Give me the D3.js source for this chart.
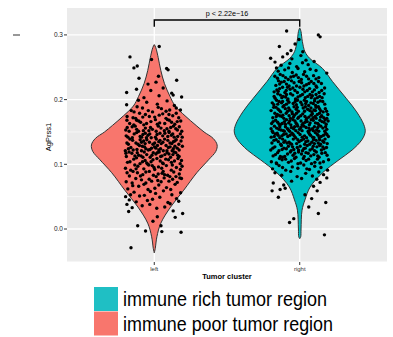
<!DOCTYPE html>
<html><head><meta charset="utf-8">
<script src="https://cdn.jsdelivr.net/npm/d3@7"></script>
<style>
html,body{margin:0;padding:0;background:#fff;}
svg{display:block;font-family:"Liberation Sans",Arial,sans-serif;}
</style></head>
<body><svg id="c" width="393" height="337"></svg>
<script>
// ---------- data ----------
const categories = ["left", "right"];
const yTicks = [0.0, 0.1, 0.2, 0.3];
const yMinor = [-0.05, 0.05, 0.15, 0.25];
const yTickLabels = ["0.0", "0.1", "0.2", "0.3"];
const xTitle = "Tumor cluster";
const yTitle = "AgPrss1";
const pText = "p < 2.22e\u221216";
const bracketLevels = [0.323, 0.3125];
const legendLabels = ["immune rich tumor region", "immune poor tumor region"];
const legendColors = ["#1FBFC4", "#F8766D"];
const groupColors = ["#F8766D", "#00BFC4"];

// violin profiles: [value, relative density]
const leftProfile = [
  [-0.037,0],[-0.030,0.015],[-0.012,0.04],[0.009,0.10],[0.034,0.25],[0.060,0.45],
  [0.087,0.65],[0.107,0.83],[0.120,0.94],[0.130,0.96],[0.140,0.90],[0.150,0.76],
  [0.160,0.64],[0.175,0.47],[0.190,0.32],[0.205,0.24],[0.225,0.155],[0.245,0.10],
  [0.265,0.06],[0.278,0.03],[0.283,0.012],[0.285,0]
];
const rightProfile = [
  [-0.015,0],[-0.012,0.015],[0.000,0.02],[0.029,0.035],[0.045,0.08],[0.065,0.16],
  [0.087,0.35],[0.107,0.60],[0.122,0.80],[0.138,0.95],[0.150,1.0],[0.161,0.98],
  [0.181,0.87],[0.202,0.71],[0.228,0.50],[0.248,0.35],[0.264,0.15],[0.274,0.08],
  [0.290,0.04],[0.305,0.02],[0.309,0.008],[0.311,0]
];

// jittered observations: [jitter offset (category units), value]
const leftPoints = [
[-.16,-.029],[-.114,.005],[-.06,-.003],[.046,.005],[.052,-.004],[.184,-.005],[.13,.028],[.195,.024],[.144,.018],
[-.197,.05],[-.172,.045],[-.188,.038],[-.152,.033],[-.176,.027],[-.163,.053],[-.009,.012],[.021,.019],
[-.083,.036],[.017,.032],[.109,.039],[-.031,.038],[.072,.034],
[-.124,.042],[.153,.047],[-.047,.044],[.038,.049],[.094,.041],[-.012,.046],[.168,.043],
[-.139,.057],[-.068,.052],[.009,.055],[.063,.059],[.121,.053],[-.027,.058],[.181,.056],[-.101,.051],
[-.182,.062],[-.107,.066],[-.043,.061],[.031,.068],[.084,.064],[.143,.069],[-.148,.067],[.004,.063],[.113,.061],[-.071,.069],
[-.193,.073],[-.127,.078],[-.058,.071],[.024,.075],[.068,.079],[.158,.072],[-.088,.076],[.047,.073],[.126,.077],[-.018,.074],[.187,.078],
[-.171,.082],[-.116,.087],[-.079,.084],[-.034,.089],[.013,.081],[.054,.086],[.092,.083],[.134,.088],[.172,.085],[-.146,.089],[-.006,.083],[.107,.081],[.061,.089],
[-.198,.094],[-.162,.091],[-.113,.097],[-.072,.093],[-.038,.099],[.003,.092],[.029,.096],[.083,.098],[.117,.091],[.152,.095],[.191,.097],[-.134,.099],[.051,.094],[-.014,.098],
[-.184,.103],[-.141,.108],[-.098,.101],[-.063,.106],[-.022,.104],[.018,.109],[.057,.102],[.098,.107],[.139,.105],[.178,.101],[-.122,.11],[-.044,.1],[.041,.105],[.079,.108],[.163,.109],[-.081,.104],
[-.192,.112],[-.154,.117],[-.108,.114],[-.069,.119],[-.028,.111],[.011,.116],[.053,.113],[.088,.118],[.128,.115],[.171,.112],[-.173,.119],[-.052,.115],[.034,.119],[.112,.111],[.148,.118],[-.091,.113],[.073,.115],[-.007,.118],
[-.199,.121],[-.161,.126],[-.119,.123],[-.082,.128],[-.041,.122],[.002,.127],[.043,.124],[.081,.129],[.123,.121],[.158,.125],[.193,.128],[-.178,.124],[-.102,.129],[-.019,.125],[.062,.121],[.097,.126],[.142,.128],[-.058,.124],[.022,.129],
[-.188,.133],[-.149,.137],[-.112,.131],[-.073,.136],[-.033,.134],[.014,.139],[.048,.132],[.093,.137],[.131,.135],[.169,.131],[-.168,.139],[-.088,.134],[-.009,.131],[.071,.139],[.108,.133],[.151,.138],[-.051,.138],[.031,.135],
[-.181,.142],[-.138,.147],[-.097,.143],[-.062,.148],[-.021,.141],[.019,.146],[.058,.144],[.102,.149],[.137,.142],[.179,.147],[-.121,.149],[-.043,.145],[.039,.148],[.118,.145],[.161,.143],[-.078,.146],
[-.196,.153],[-.152,.158],[-.108,.151],[-.061,.156],[-.013,.154],[.028,.159],[.069,.152],[.113,.157],[.148,.155],[.189,.151],[-.131,.159],[-.037,.152],[.087,.155],[.172,.158],
[-.169,.163],[-.121,.168],[-.072,.161],[-.023,.166],[.037,.164],[.091,.169],[.141,.162],[.182,.167],[-.094,.165],[.008,.169],[.119,.165],
[-.187,.174],[-.128,.171],[-.061,.177],[.003,.173],[.058,.178],[.127,.175],[.168,.172],[-.101,.179],[.081,.171],
[-.158,.183],[-.081,.187],[-.012,.181],[.049,.186],[.106,.184],[.18,.184],[-.118,.189],
[-.19,.192],[-.052,.196],[.021,.193],[.088,.198],[.138,.191],[-.109,.199],
[.12,.21],[.13,.207],[.188,.204],[-.071,.203],[.033,.206],
[-.19,.211],[-.024,.214],[.061,.218],[-.122,.216],
[.154,.23],[-.043,.224],[.012,.227],
[-.105,.233],[.029,.236],
[-.14,.249],[-.117,.252],[.085,.248],[.095,.246],
[-.167,.266],[-.019,.262],
[.034,.282],
[-.152,.071],[-.035,.077],[.101,.074],[.176,.079],[-.095,.082],[.027,.085],[.149,.081],[-.187,.087],[-.058,.088],[.071,.084],
[-.125,.093],[-.002,.095],[.124,.099],[.179,.092],[-.167,.104],[-.052,.102],[.062,.101],[.118,.103],[-.009,.107],[.187,.106],
[-.133,.113],[-.078,.111],[-.016,.114],[.044,.112],[.101,.116],[.161,.114],[-.195,.117],[.021,.118],[-.117,.118],[.136,.119],
[-.145,.122],[-.088,.121],[-.029,.123],[.031,.122],[.087,.121],[.131,.124],[.171,.122],[-.067,.127],[.011,.125],[.109,.127],
[-.178,.131],[-.126,.133],[-.063,.132],[.003,.133],[.059,.134],[.121,.132],[.184,.136],[-.097,.138],[.039,.137],[.141,.136],
[-.193,.144],[-.151,.141],[-.087,.142],[-.031,.147],[.008,.142],[.073,.148],[.127,.147],[.192,.142],[-.054,.141],[.093,.143],
[-.173,.151],[-.121,.154],[-.075,.152],[-.026,.157],[.046,.156],[.101,.151],[.159,.153],[-.186,.157],[.013,.151],[.131,.159],
[-.141,.161],[-.053,.163],[.021,.162],[.072,.163],[.158,.166],[-.188,.168],[-.107,.167],[.103,.168],
[-.146,.172],[-.034,.174],[.034,.176],[.101,.177],[.151,.179],[-.079,.173],
[-.139,.181],[-.041,.183],[.027,.188],[.081,.182],[.151,.187]
];
const rightPoints = [
[.17,-.009],[-.07,.01],[.128,.024],[-.041,.016],[.062,.034],[.179,.041],[.082,.047],[-.147,.049],[-.19,.059],[.12,.059],[.036,.053],
[-.135,.061],[-.11,.068],[-.1,.063],[.095,.066],[.117,.077],[.14,.072],[-.056,.074],[.013,.078],[-.182,.071],[.186,.079],
[-.17,.087],[-.124,.083],[-.062,.089],[-.018,.081],[.041,.086],[.087,.082],[.131,.088],[.164,.084],
[-.187,.093],[-.142,.098],[-.096,.091],[-.051,.096],[-.013,.094],[.028,.099],[.067,.092],[.103,.097],[.146,.095],[.191,.091],[-.118,.095],[.049,.093],
[-.195,.104],[-.158,.101],[-.121,.107],[-.077,.103],[-.036,.109],[.006,.102],[.044,.106],[.081,.101],[.122,.108],[.163,.104],[.198,.107],[-.058,.105],[.025,.109],[.104,.103],[-.139,.109],
[-.183,.113],[-.152,.118],[-.117,.111],[-.084,.116],[-.046,.114],[-.008,.119],[.031,.112],[.058,.117],[.097,.115],[.133,.111],[.176,.118],[-.167,.115],[-.065,.119],[.012,.116],[.076,.113],[.152,.117],[-.103,.112],[.114,.119],[-.026,.111],
[-.199,.122],[-.171,.127],[-.143,.121],[-.109,.125],[-.078,.128],[-.041,.123],[-.017,.126],[.019,.121],[.052,.129],[.086,.124],[.118,.127],[.149,.122],[.184,.126],[-.126,.129],[-.059,.121],[.003,.128],[.038,.125],[.071,.122],[.137,.129],[.167,.124],[-.092,.124],[.102,.121],
[-.191,.133],[-.162,.138],[-.131,.131],[-.101,.136],[-.073,.134],[-.044,.139],[-.021,.132],[.011,.137],[.042,.135],[.069,.131],[.095,.138],[.127,.133],[.158,.136],[.189,.132],[-.177,.137],[-.118,.139],[-.056,.131],[-.004,.135],[.027,.139],[.083,.134],[.113,.137],[.143,.131],[.174,.139],[-.087,.133],[.056,.136],
[-.196,.142],[-.168,.147],[-.137,.141],[-.111,.146],[-.082,.143],[-.053,.148],[-.028,.141],[.002,.146],[.033,.144],[.061,.149],[.089,.142],[.119,.147],[.148,.143],[.179,.148],[-.184,.149],[-.123,.144],[-.067,.145],[-.011,.149],[.047,.141],[.074,.145],[.107,.149],[.134,.141],[.164,.145],[.197,.143],[-.149,.145],[-.038,.144],
[-.188,.151],[-.159,.156],[-.129,.153],[-.098,.158],[-.069,.151],[-.042,.155],[-.014,.159],[.016,.152],[.044,.157],[.072,.153],[.101,.158],[.131,.151],[.159,.156],[.186,.154],[-.174,.159],[-.114,.152],[-.057,.157],[-.002,.154],[.029,.159],[.087,.155],[.116,.153],[.145,.159],[.172,.151],[-.143,.154],[-.084,.155],[.058,.151],[-.027,.152],
[-.193,.163],[-.166,.168],[-.134,.161],[-.105,.166],[-.076,.164],[-.047,.169],[-.019,.162],[.009,.167],[.037,.165],[.066,.161],[.093,.168],[.124,.163],[.153,.166],[.182,.162],[-.152,.165],[-.091,.169],[-.033,.167],[.023,.163],[.079,.169],[.108,.164],[.139,.168],[.167,.165],[-.121,.163],[-.061,.161],[.051,.166],[.195,.167],
[-.185,.172],[-.154,.177],[-.124,.174],[-.093,.179],[-.064,.171],[-.036,.176],[-.007,.173],[.021,.178],[.049,.171],[.078,.176],[.106,.174],[.136,.179],[.165,.172],[.193,.177],[-.171,.179],[-.109,.171],[-.051,.178],[.007,.175],[.063,.173],[.121,.177],[.151,.175],[-.138,.175],[-.022,.179],[.092,.172],
[-.197,.183],[-.163,.188],[-.131,.181],[-.099,.186],[-.068,.184],[-.039,.189],[-.009,.182],[.024,.187],[.054,.185],[.084,.181],[.113,.188],[.144,.183],[.176,.186],[-.148,.185],[-.083,.182],[-.024,.185],[.039,.189],[.098,.184],[.128,.189],[.161,.181],[-.115,.189],[.069,.183],
[-.178,.192],[-.142,.197],[-.107,.191],[-.074,.196],[-.045,.194],[-.015,.199],[.016,.192],[.047,.197],[.077,.195],[.109,.191],[.141,.198],[.172,.193],[-.159,.199],[-.091,.193],[-.031,.197],[.032,.199],[.093,.194],[.125,.196],[-.125,.195],[.061,.191],
[-.169,.202],[-.133,.207],[-.097,.204],[-.063,.209],[-.029,.201],[.004,.206],[.038,.203],[.071,.208],[.104,.201],[.137,.205],[.168,.209],[-.151,.209],[-.081,.201],[-.012,.204],[.055,.205],[.121,.203],[-.114,.205],[.087,.206],
[-.176,.212],[-.138,.217],[-.102,.211],[-.066,.216],[-.033,.214],[.001,.219],[.035,.212],[.068,.217],[.101,.215],[.133,.211],[.171,.218],[-.157,.215],[-.084,.219],[-.016,.211],[.052,.214],[.117,.219],
[-.164,.222],[-.127,.227],[-.091,.224],[-.057,.229],[-.022,.221],[.013,.226],[.046,.223],[.079,.228],[.112,.221],[.149,.225],[-.146,.229],[-.073,.221],[-.004,.228],[.063,.225],
[-.153,.233],[-.115,.237],[-.079,.231],[-.042,.236],[-.009,.234],[.026,.239],[.061,.232],[.095,.237],[.131,.234],[-.134,.239],[-.061,.235],[.011,.231],
[.186,.241],[-.16,.249],[-.148,.244],[-.103,.246],[-.051,.242],[-.012,.248],[.034,.243],[.072,.247],[.112,.245],[-.077,.249],
[-.17,.258],[-.128,.253],[-.068,.256],[-.021,.251],[.019,.257],[.058,.254],[.099,.259],
[-.2,.264],[-.117,.266],[-.054,.263],[.008,.268],[.043,.261],
[-.06,.276],[-.085,.271],[.021,.274],
[-.14,.282],[-.032,.286],
[.14,.297],[-.005,.293],
[-.09,.306],[.128,.3],
[-.161,.102],[-.097,.108],[-.012,.101],[.061,.108],[.139,.102],
[-.133,.112],[-.034,.117],[.043,.118],[.124,.113],[.188,.114],
[-.185,.125],[-.121,.123],[-.049,.127],[.028,.124],[.093,.128],[.159,.127],[-.008,.122],
[-.147,.135],[-.064,.132],[-.013,.138],[.034,.131],[.101,.132],[.166,.134],[-.109,.134],[.137,.138],
[-.175,.143],[-.093,.147],[-.045,.146],[.017,.142],[.067,.147],[.126,.145],[.187,.146],[-.155,.148],[.098,.141],
[-.197,.155],[-.137,.158],[-.077,.153],[-.035,.158],[.008,.157],[.063,.156],[.124,.157],[.178,.158],[-.106,.151],[.094,.152],
[-.183,.166],[-.141,.162],[-.069,.167],[-.026,.164],[.016,.161],[.071,.164],[.131,.161],[.175,.169],[-.099,.162],[.044,.169],
[-.161,.174],[-.116,.176],[-.073,.175],[-.013,.171],[.036,.174],[.087,.178],[.143,.173],[.186,.171],[-.043,.173],[.113,.171],
[-.179,.188],[-.139,.183],[-.076,.187],[-.017,.188],[.033,.182],[.077,.187],[.136,.186],[.185,.182],[-.053,.181],[.108,.183],
[-.189,.195],[-.151,.193],[-.083,.199],[-.023,.192],[.041,.194],[.102,.198],[.158,.197],[-.118,.197],[.007,.196],
[-.176,.205],[-.123,.203],[-.048,.207],[.019,.208],[.079,.203],[.154,.203],[-.091,.208],[.112,.208],
[-.148,.213],[-.093,.214],[-.047,.218],[.022,.216],[.087,.212],[.151,.214],[-.118,.219],
[-.138,.224],[-.039,.226],[.029,.221],[.097,.225],[-.107,.228],[.129,.228],
[-.097,.234],[-.024,.238],[.047,.236],[.112,.232],[-.171,.236]
];

// ---------- drawing ----------
const svg = d3.select("#c");
const P = {l: 67, r: 387, t: 8, b: 262};

const x = d3.scalePoint().domain(categories).range([P.l, P.r]).padding(0.6);
const step = x.step();
const y = d3.scaleLinear().domain([-0.051, 0.3416]).range([P.b, P.t]);

// panel
svg.append("rect").attr("x", P.l).attr("y", P.t).attr("width", P.r - P.l).attr("height", P.b - P.t).attr("fill", "#EBEBEB");
const grid = svg.append("g");
grid.selectAll(".mn").data(yMinor).join("line")
  .attr("x1", P.l).attr("x2", P.r).attr("y1", d => y(d)).attr("y2", d => y(d))
  .attr("stroke", "#fff").attr("stroke-width", 0.6);
grid.selectAll(".mj").data(yTicks).join("line")
  .attr("x1", P.l).attr("x2", P.r).attr("y1", d => y(d)).attr("y2", d => y(d))
  .attr("stroke", "#fff").attr("stroke-width", 1.3);
grid.selectAll(".vx").data(categories).join("line")
  .attr("x1", d => x(d)).attr("x2", d => x(d)).attr("y1", P.t).attr("y2", P.b)
  .attr("stroke", "#fff").attr("stroke-width", 1.3);

// violins
const maxHalf = 0.45 * step;
[leftProfile, rightProfile].forEach((prof, i) => {
  const cx = x(categories[i]);
  const area = d3.area()
    .y(d => y(d[0]))
    .x0(d => cx - d[1] * maxHalf)
    .x1(d => cx + d[1] * maxHalf)
    .curve(d3.curveCatmullRom);
  svg.append("path").datum(prof).attr("d", area)
    .attr("fill", groupColors[i]).attr("stroke", "#333333").attr("stroke-width", 1);
});

// points
[leftPoints, rightPoints].forEach((pts, i) => {
  const cx = x(categories[i]);
  svg.append("g").selectAll("circle").data(pts).join("circle")
    .attr("cx", d => cx + d[0] * step)
    .attr("cy", d => y(d[1]))
    .attr("r", 1.7)
    .attr("fill", "#000");
});

// significance bracket
const bx0 = x(categories[0]), bx1 = x(categories[1]);
svg.append("path")
  .attr("d", d3.line()([[bx0, y(bracketLevels[1])], [bx0, y(bracketLevels[0])], [bx1, y(bracketLevels[0])], [bx1, y(bracketLevels[1])]]))
  .attr("fill", "none").attr("stroke", "#000").attr("stroke-width", 1.4);
svg.append("text").attr("x", (bx0 + bx1) / 2).attr("y", y(bracketLevels[0]) - 4)
  .attr("text-anchor", "middle").attr("font-size", 7.2).attr("fill", "#000").text(pText);

// y axis
const yAx = svg.append("g");
yAx.selectAll("line").data(yTicks).join("line")
  .attr("x1", P.l - 3).attr("x2", P.l).attr("y1", d => y(d)).attr("y2", d => y(d))
  .attr("stroke", "#333").attr("stroke-width", 1);
yAx.selectAll("text").data(yTicks).join("text")
  .attr("x", P.l - 4).attr("y", d => y(d)).attr("dy", "0.35em")
  .attr("text-anchor", "end").attr("font-size", 6.5).attr("fill", "#222")
  .text((d, i) => yTickLabels[i]);
svg.append("text").attr("transform", `translate(51,${(P.t + P.b) / 2 + 2}) rotate(-90)`)
  .attr("text-anchor", "middle").attr("font-size", 7.5).attr("fill", "#000").text(yTitle);

// x axis
const xAx = svg.append("g");
xAx.selectAll("line").data(categories).join("line")
  .attr("x1", d => x(d)).attr("x2", d => x(d)).attr("y1", P.b).attr("y2", P.b + 3)
  .attr("stroke", "#333").attr("stroke-width", 1);
xAx.selectAll("text").data(categories).join("text")
  .attr("x", d => x(d)).attr("y", P.b + 8.5)
  .attr("text-anchor", "middle").attr("font-size", 6).attr("fill", "#333").text(d => d);
svg.append("text").attr("x", (P.l + P.r) / 2).attr("y", P.b + 16.5)
  .attr("text-anchor", "middle").attr("font-size", 7.5).attr("font-weight", "bold").attr("fill", "#000").text(xTitle);

// stray dash top-left
svg.append("rect").attr("x", 13).attr("y", 34.5).attr("width", 7).attr("height", 1).attr("fill", "#333");

// legend
const lg = svg.append("g");
const legendWidths = [204, 210];
legendLabels.forEach((lab, i) => {
  const yy = 287 + i * 24.5;
  lg.append("rect").attr("x", 94).attr("y", yy).attr("width", 24).attr("height", 24).attr("fill", legendColors[i]);
  lg.append("text").attr("x", 123).attr("y", yy + 19).attr("font-size", 19.5).attr("fill", "#000")
    .attr("textLength", legendWidths[i]).attr("lengthAdjust", "spacingAndGlyphs").text(lab);
});
</script></body></html>
